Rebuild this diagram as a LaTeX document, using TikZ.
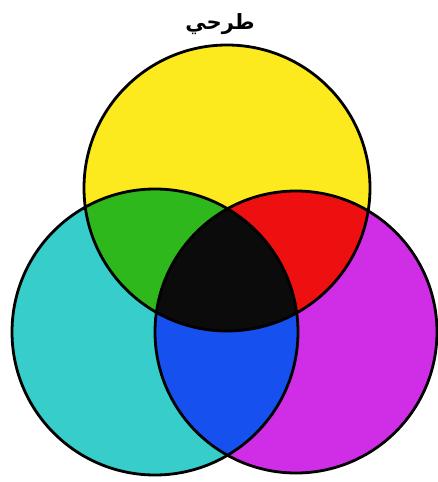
\documentclass[tikz,border=0pt]{standalone}
\usepackage{fontspec}
\newfontfamily\arabicfont[Script=Arabic]{DejaVu Sans}
\TeXXeTstate=1
\definecolor{cY}{HTML}{FCE91E}
\definecolor{cC}{HTML}{36CDCB}
\definecolor{cM}{HTML}{D02EE6}
\definecolor{cG}{HTML}{2EB81B}
\definecolor{cR}{HTML}{EE1010}
\definecolor{cB}{HTML}{1650EE}
\definecolor{cK}{HTML}{0B0B0B}
\begin{document}
\begin{tikzpicture}[x=1pt,y=-1pt,
  ring/.style={draw=black,line width=2.8pt}]
\useasboundingbox (0,0) rectangle (437,482);
\fill[white] (0,0) rectangle (437,482);
\def\Y{(227,188) circle [radius=143pt]}
\def\C{(155,332) circle [radius=143pt]}
\def\M{(296,332) circle [radius=141pt]}
\fill[cY] \Y;
\fill[cC] \C;
\fill[cM] \M;
\begin{scope}\clip \Y; \fill[cG] \C; \end{scope}
\begin{scope}\clip \Y; \fill[cR] \M; \end{scope}
\begin{scope}\clip \C; \fill[cB] \M; \end{scope}
\begin{scope}\clip \Y; \clip \C; \fill[cK] \M; \end{scope}
\draw[ring] \Y;
\draw[ring] \C;
\draw[ring] \M;
\node[font=\arabicfont\bfseries\fontsize{21}{24}\selectfont] (title) at (220,24) {\beginR طرحي\endR};
\end{tikzpicture}
\end{document}
